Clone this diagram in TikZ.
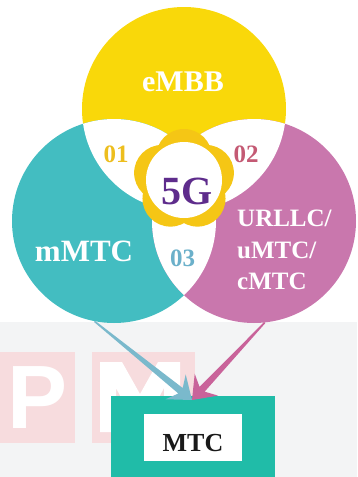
\documentclass[tikz,border=0pt]{standalone}
\usepackage{fontspec}
\setmainfont{Liberation Serif}
\setsansfont{Liberation Sans}
\usepackage{tikz}
\usetikzlibrary{positioning}
\usetikzlibrary{calc}
\usepackage{xcolor}

\definecolor{embbyellow}{HTML}{F9D80A}
\definecolor{mmtcteal}{HTML}{43BDC1}
\definecolor{urllcpink}{HTML}{C977AD}
\definecolor{flowergold}{HTML}{F5C615}
\definecolor{fivegpurple}{HTML}{5E2C8C}
\definecolor{numgold}{HTML}{EDBE1E}
\definecolor{numrose}{HTML}{C45A74}
\definecolor{numblue}{HTML}{6BB0CA}
\definecolor{arrowblue}{HTML}{7AB9CC}
\definecolor{arrowpink}{HTML}{C9639A}
\definecolor{mtcgreen}{HTML}{20BCA8}
\definecolor{backgray}{HTML}{F3F4F5}
\definecolor{wmpink}{HTML}{F7DCDE}

\tikzset{
	ring/.style={circle, inner sep=0pt, minimum size=204pt},
	ringname/.style={text=white, inner sep=0pt},
	pairnum/.style={inner sep=0pt, font=\bfseries\fontsize{25}{25}\selectfont},
	wmbox/.style={fill=wmpink, text=white, inner sep=0pt, minimum height=91pt,
		font=\sffamily\bfseries\fontsize{90}{90}\selectfont},
}

% slim tail widening into a stealth head: tail, tip, colour
\newcommand{\taperarrow}[3]{%
	\fill[#3] ($(#1)!0.8pt!90:(#2)$)
		-- ($(#2)!14.75pt!(#1)!3.5pt!-90:(#1)$)
		-- ($(#2)!21pt!(#1)!16pt!-90:(#1)$)
		-- (#2)
		-- ($(#2)!21pt!(#1)!16pt!90:(#1)$)
		-- ($(#2)!14.75pt!(#1)!3.5pt!90:(#1)$)
		-- ($(#1)!0.8pt!-90:(#2)$) -- cycle;
}

\begin{document}
\begin{tikzpicture}[x=1pt, y=-1pt]
	\useasboundingbox (0,0) rectangle (357,477);

	% faded backdrop
	\fill[backgray] (0,322) rectangle (357,477);
	\node[wmbox, minimum width=75pt] (wmp) at (37.5,397.5) {P};
	\fill[wmpink] (92,352) rectangle (195,443);
	\fill[white] (100,362) -- (122,362) -- (140,394) -- (158,362) -- (180,362)
		-- (180,432) -- (164,432) -- (164,388) -- (147,420) -- (133,420)
		-- (116,388) -- (116,432) -- (100,432) -- cycle;

	% three rings, overlaps left white
	\node[ring, fill=embbyellow] (embb) at (184,109) {};
	\node[ring, fill=mmtcteal] (mmtc) at (114,221) {};
	\node[ring, fill=urllcpink] (urllc) at (254,221) {};
	\begin{scope}
		\clip (embb.center) circle[radius=102pt];
		\fill[white] (mmtc.center) circle[radius=102pt];
		\fill[white] (urllc.center) circle[radius=102pt];
	\end{scope}
	\begin{scope}
		\clip (mmtc.center) circle[radius=102pt];
		\fill[white] (urllc.center) circle[radius=102pt];
	\end{scope}

	% flower in the middle
	\coordinate (flower) at (184,180);
	\foreach \a in {18,90,162,234,306}
		\fill[flowergold] ($(flower)+(\a:23pt)$) circle[radius=28pt];
	\node[circle, fill=white, inner sep=0pt, minimum size=76pt] (core) at (flower) {};
	\node[inner sep=0pt, text=fivegpurple, font=\bfseries\fontsize{40}{40}\selectfont] (fiveg) at (187.5,191) {5G};

	\node[ringname, font=\bfseries\fontsize{30}{30}\selectfont] (embbtext) at (183,81.5) {eMBB};
	\node[ringname, font=\bfseries\fontsize{31}{31}\selectfont] (mmtctext) at (84,251) {mMTC};
	\node[ringname, anchor=west, align=left, font=\bfseries\fontsize{25}{31.5}\selectfont] (urllctext) at (237,250) {URLLC/\\uMTC/\\cMTC};

	\node[pairnum, text=numgold] (n01) at (116,154) {01};
	\node[pairnum, text=numrose] (n02) at (246,154) {02};
	\node[pairnum, text=numblue] (n03) at (182.5,258) {03};

	% target box
	\node[fill=mtcgreen, inner sep=0pt, minimum width=164pt, minimum height=90pt, anchor=north] (mtcbox) at (193,396) {};
	\node[fill=white, inner sep=0pt, minimum width=98pt, minimum height=47pt] (mtcwin) at (193,437.5) {};
	\node[inner sep=0pt, text=black!90, font=\bfseries\fontsize{26}{26}\selectfont] (mtc) at (193,443) {MTC};

	\coordinate (tip) at ($(mtcbox.north)+(-1,4)$);
	\taperarrow{mmtc.259}{tip}{arrowblue}
	\taperarrow{urllc.276}{tip}{arrowpink}
\end{tikzpicture}
\end{document}
